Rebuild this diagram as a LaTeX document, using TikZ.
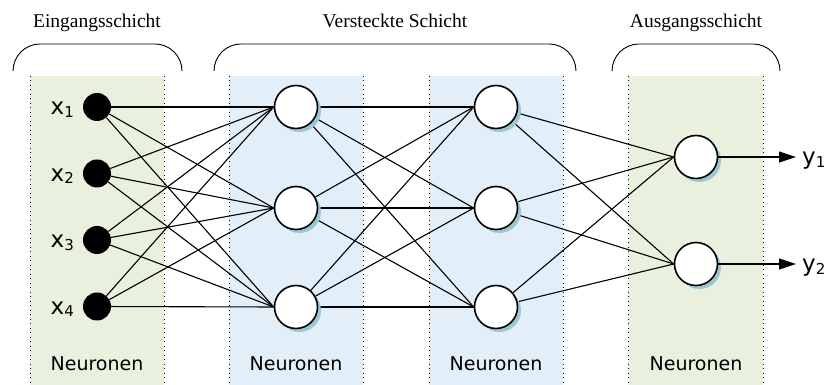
\documentclass[tikz,border=0pt]{standalone}
\usepackage{fontspec}
\setmainfont{Liberation Serif}
\newfontfamily\labelfont{DejaVu Sans}
\usetikzlibrary{arrows.meta,shadows}

\definecolor{bandgreen}{RGB}{233,240,222}
\definecolor{bandblue}{RGB}{226,238,248}
\definecolor{neuronshade}{RGB}{158,198,208}

\pgfdeclarelayer{bands}
\pgfdeclarelayer{links}
\pgfsetlayers{bands,links,main}

\tikzset{
  bandedge/.style={draw=black, line width=0.9pt, dash pattern=on 0.9pt off 3.6pt},
  brace/.style={line width=0.9pt, rounded corners=27pt},
  layertitle/.style={anchor=base, inner sep=0pt, font=\fontsize{19.5}{20}\selectfont},
  neuronlabel/.style={anchor=base, inner sep=0pt, font=\labelfont\fontsize{19}{20}\selectfont},
  inneuron/.style={circle, fill=black, minimum size=28pt, inner sep=0pt},
  neuron/.style={circle, draw=black, line width=1.6pt, fill=white, minimum size=43pt, inner sep=0pt,
    drop shadow={shadow xshift=3.5pt, shadow yshift=-3.5pt, fill=neuronshade, opacity=1}},
  link/.style={line width=1.1pt},
  iolabel/.style={inner sep=0pt, font=\labelfont\fontsize{23}{24}\selectfont},
  outarrow/.style={line width=1.1pt, -{Triangle[length=17pt,width=11pt]}, shorten >=6pt},
}

\newcommand{\subidx}[1]{\raisebox{-2.5pt}{\fontsize{15}{15}\selectfont #1}}

\begin{document}
\begin{tikzpicture}[x=1pt,y=1pt]
\useasboundingbox (0,0) rectangle (831,385);

% layer bands with dotted side edges
\begin{pgfonlayer}{bands}
  \fill[bandgreen] (30,0) rectangle (164,309);
  \fill[bandblue]  (229,0) rectangle (363,309);
  \fill[bandblue]  (429,0) rectangle (563,309);
  \fill[bandgreen] (628,0) rectangle (763,309);
  \foreach \xe in {30,164,229,363,429,563,628,763}
    \draw[bandedge] (\xe,309) -- (\xe,0);
\end{pgfonlayer}

% braces and layer titles
\draw[brace] (13,314) -- (13,341) -- (182,341) -- (182,314);
\draw[brace] (214,314) -- (214,341) -- (576,341) -- (576,314);
\draw[brace] (612,314) -- (612,341) -- (780,341) -- (780,314);
\node[layertitle] (tin)  at (97,357)  {Eingangsschicht};
\node[layertitle] (thid) at (395,357) {Versteckte Schicht};
\node[layertitle] (tout) at (696,357) {Ausgangsschicht};

% input neurons
\node[inneuron] (i1) at (97,278) {};
\node[inneuron] (i2) at (97,211.5) {};
\node[inneuron] (i3) at (97,145) {};
\node[inneuron] (i4) at (97,78.5) {};

% hidden neurons
\node[neuron] (a1) at (296,278) {};
\node[neuron] (a2) at (296,177) {};
\node[neuron] (a3) at (296,78) {};
\node[neuron] (b1) at (496,278) {};
\node[neuron] (b2) at (496,177) {};
\node[neuron] (b3) at (496,78) {};

% output neurons
\node[neuron] (o1) at (696,228) {};
\node[neuron] (o2) at (696,121) {};

% connections
\begin{pgfonlayer}{links}
  \foreach \s in {i1,i2,i3,i4}
    \foreach \t in {a1,a2,a3}
      \draw[link] (\s) -- (\t.west);
  \foreach \s in {a1,a2,a3}
    \foreach \t in {b1,b2,b3}
      \draw[link] (\s) -- (\t.west);
  \foreach \s in {b1,b2,b3}
    \foreach \t in {o1,o2}
      \draw[link] (\s) -- (\t.west);
\end{pgfonlayer}

% input labels
\node[iolabel, anchor=base east] (x1) at (74,270)   {x\subidx{1}};
\node[iolabel, anchor=base east] (x2) at (74,203.5) {x\subidx{2}};
\node[iolabel, anchor=base east] (x3) at (74,137)   {x\subidx{3}};
\node[iolabel, anchor=base east] (x4) at (74,70.5)  {x\subidx{4}};

% outputs
\node[iolabel, anchor=base west] (y1) at (802,220) {y\subidx{1}};
\node[iolabel, anchor=base west] (y2) at (802,113) {y\subidx{2}};
\draw[outarrow] (o1.east) -- (o1.east -| y1.west);
\draw[outarrow] (o2.east) -- (o2.east -| y2.west);

% layer captions
\node[neuronlabel] (n1) at (97,14)  {Neuronen};
\node[neuronlabel] (n2) at (296,14) {Neuronen};
\node[neuronlabel] (n3) at (496,14) {Neuronen};
\node[neuronlabel] (n4) at (696,14) {Neuronen};
\end{tikzpicture}
\end{document}
